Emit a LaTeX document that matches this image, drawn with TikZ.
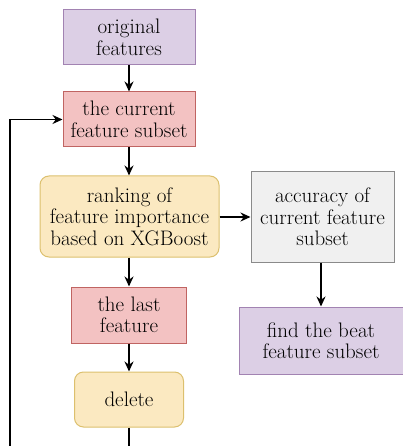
\documentclass[tikz,border=0pt]{standalone}
\usepackage{fontspec}
\usetikzlibrary{arrows.meta}
\definecolor{purfill}{HTML}{DCCFE5}
\definecolor{purline}{HTML}{A283B2}
\definecolor{redfill}{HTML}{F3C2C2}
\definecolor{redline}{HTML}{C06462}
\definecolor{yelfill}{HTML}{FBE9C1}
\definecolor{yelline}{HTML}{DCC06E}
\definecolor{gryfill}{HTML}{F0F0F0}
\definecolor{gryline}{HTML}{8A8A8A}
\tikzset{
  box/.style={draw, line width=1pt, align=center, inner sep=0pt,
    font=\fontsize{21}{21.5}\selectfont},
  purbox/.style={box, fill=purfill, draw=purline},
  redbox/.style={box, fill=redfill, draw=redline},
  yelbox/.style={box, fill=yelfill, draw=yelline, rounded corners=9pt},
  grybox/.style={box, fill=gryfill, draw=gryline},
  arr/.style={line width=1.6pt, -{Stealth[length=10pt,width=9pt]}}
}
\begin{document}
\begin{tikzpicture}[x=1pt,y=-1pt]
\useasboundingbox (0,0) rectangle (403,446);
\node[purbox, minimum width=132pt, minimum height=55pt] (orig) at (129,37.5) {original\\features};
\node[redbox, minimum width=132pt, minimum height=55pt] (cur) at (129,119.5) {the current\\feature subset};
\node[yelbox, minimum width=179pt, minimum height=81pt] (rank) at (129.5,216.5) {ranking of\\feature importance\\based on XGBoost};
\node[redbox, minimum width=115pt, minimum height=56pt] (last) at (129,315) {the last\\feature};
\node[yelbox, minimum width=109pt, minimum height=55pt] (del) at (129,399.5) {delete};
\node[grybox, minimum width=143pt, minimum height=90pt] (acc) at (322.5,217) {accuracy of\\current feature\\subset};
\node[purbox, minimum width=164pt, minimum height=67pt] (find) at (321,340.5) {find the beat\\feature subset};
\coordinate (lb) at (10,446.3);
\draw[arr] (orig) -- (cur);
\draw[arr] (cur.south) -- (cur.south |- rank.north);
\draw[arr] (rank.south -| last.north) -- (last.north);
\draw[arr] (last) -- (del);
\draw[arr] (rank.east |- acc.west) -- (acc.west);
\draw[arr] (acc.south -| find.north) -- (find.north);
\draw[arr] (del.south) |- (lb) |- (cur.west);
\end{tikzpicture}
\end{document}
